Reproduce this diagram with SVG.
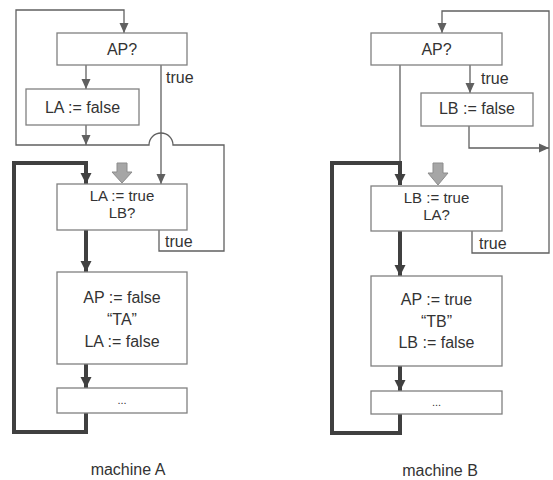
<svg xmlns="http://www.w3.org/2000/svg" width="553" height="480" viewBox="0 0 553 480">
<style>
.box{fill:#fff;stroke:#808080;stroke-width:1.3}
.t{font-family:"Liberation Sans",Arial,sans-serif;font-size:16px;fill:#333;text-anchor:middle}
.t2{font-size:15px}
.tl{font-family:"Liberation Sans",Arial,sans-serif;font-size:16px;fill:#333}
.thin{fill:none;stroke:#606060;stroke-width:1.3}
.thick{fill:none;stroke:#404040;stroke-width:4}
.blk{fill:#a6a6a6;stroke:#8c8c8c;stroke-width:1}
</style>
<defs>
<marker id="a" markerUnits="userSpaceOnUse" markerWidth="10" markerHeight="10" viewBox="0 0 10 10" refX="10" refY="5" orient="auto">
<path d="M0,0.5 L10,5 L0,9.5 Z" fill="#606060"/>
</marker>
<marker id="b" markerUnits="userSpaceOnUse" markerWidth="12" markerHeight="12" viewBox="0 0 12 12" refX="11" refY="6" orient="auto">
<path d="M0,0.5 L11,6 L0,11.5 Z" fill="#404040"/>
</marker>
</defs>
<g id="connectors">
<path class="thin" d="M159,230 V251 H224 V145 H173 A12,12 0 0 0 149,145 H16 V10 H124 V33" marker-end="url(#a)"/>
<path class="thin" d="M86,65 V89" marker-end="url(#a)"/>
<path class="thin" d="M86,125 V145" marker-end="url(#a)"/>
<path class="thin" d="M161,65 V184" marker-end="url(#a)"/>
<path class="thick" d="M86,230 V272" marker-end="url(#b)"/>
<path class="thick" d="M86,364 V388" marker-end="url(#b)"/>
<path class="thick" d="M86,413 V432 H14 V163 H86 V184" marker-end="url(#b)"/>
<path class="blk" d="M117,163 H127 V172 H132 L122,183 L112,172 H117 Z"/>
<path class="thin" d="M472,231 V253 H549 V11 H442 V33" marker-end="url(#a)"/>
<path class="thin" d="M400,65 V163"/>
<path class="thin" d="M470,65 V93" marker-end="url(#a)"/>
<path class="thin" d="M469,126 V148 H549" marker-end="url(#a)"/>
<path class="thick" d="M400,231 V276" marker-end="url(#b)"/>
<path class="thick" d="M400,366 V391" marker-end="url(#b)"/>
<path class="thick" d="M400,414 V433 H332 V163 H400 V185" marker-end="url(#b)"/>
<path class="blk" d="M433,163 H443 V173 H448 L438,185 L428,173 H433 Z"/>
<text class="tl" x="166" y="83">true</text>
<text class="tl" x="165" y="247">true</text>
<text class="tl" x="481" y="84">true</text>
<text class="tl" x="479" y="249">true</text>
</g>
<g id="A_ap"><rect class="box" x="57" y="33" width="130" height="32"/><text class="t" x="122" y="55">AP?</text></g>
<g id="A_lafalse"><rect class="box" x="26" y="89" width="113" height="36"/><text class="t" x="82.5" y="113">LA := false</text></g>
<g id="A_latrue"><rect class="box" x="57" y="184" width="130" height="46"/><text class="t t2" x="122" y="201">LA := true</text><text class="t t2" x="122" y="218">LB?</text></g>
<g id="A_crit"><rect class="box" x="57" y="272" width="130" height="92"/><text class="t" x="122" y="303">AP := false</text><text class="t" x="122" y="325">“TA”</text><text class="t" x="122" y="347">LA := false</text></g>
<g id="A_rest"><rect class="box" x="57" y="388" width="130" height="25"/><text class="t" x="122" y="404" style="font-size:11px">...</text></g>
<text id="A_label" class="t" x="128" y="475">machine A</text>
<g id="B_ap"><rect class="box" x="371" y="33" width="131" height="32"/><text class="t" x="436.5" y="55">AP?</text></g>
<g id="B_lbfalse"><rect class="box" x="421" y="93" width="112" height="33"/><text class="t" x="477" y="114">LB := false</text></g>
<g id="B_lbtrue"><rect class="box" x="371" y="186" width="131" height="45"/><text class="t t2" x="436.5" y="203">LB := true</text><text class="t t2" x="436.5" y="220">LA?</text></g>
<g id="B_crit"><rect class="box" x="371" y="276" width="131" height="90"/><text class="t" x="436.5" y="305">AP := true</text><text class="t" x="436.5" y="327">“TB”</text><text class="t" x="436.5" y="348">LB := false</text></g>
<g id="B_rest"><rect class="box" x="371" y="391" width="131" height="23"/><text class="t" x="436.5" y="406" style="font-size:11px">...</text></g>
<text id="B_label" class="t" x="440" y="476">machine B</text>
</svg>
